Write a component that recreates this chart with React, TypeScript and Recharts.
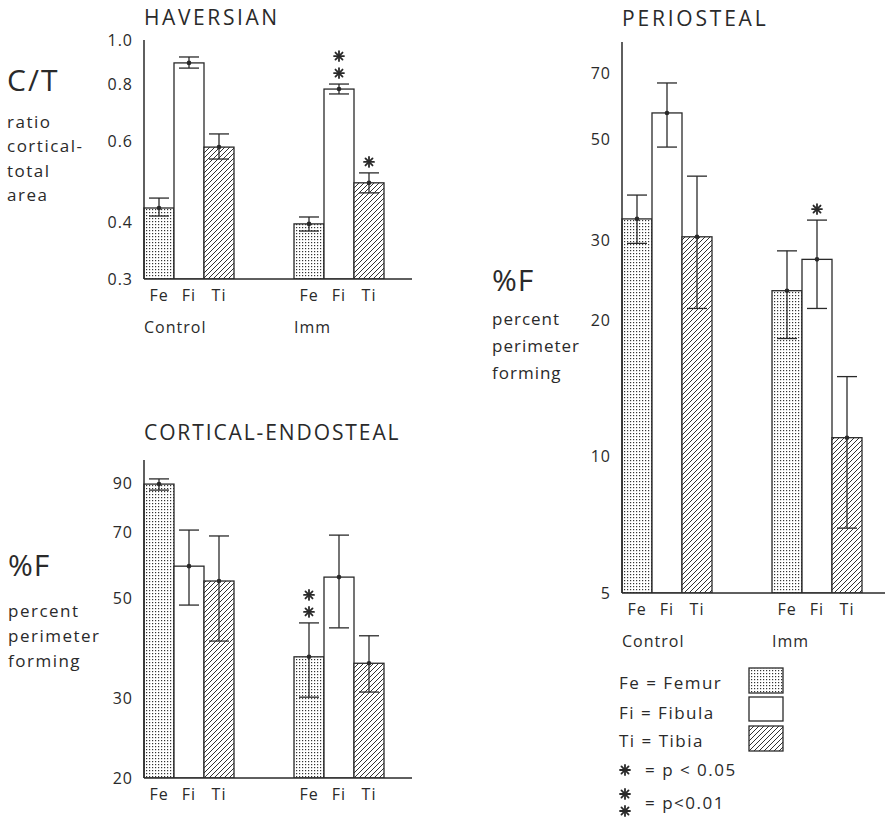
import React from 'react';
import { ComposedChart, Bar, XAxis, YAxis, ErrorBar } from 'recharts';

const INK = '#2a2a2a';
const FONT = '"Open Sans", "DejaVu Sans", sans-serif';

const groups = ['Control', 'Imm'];
const bones = ['Fe', 'Fi', 'Ti'];

// HAVERSIAN  C/T ratio (log scale)
const havTicks = [0.3, 0.4, 0.6, 0.8, 1.0];
const havDomain = [0.3, 1.0];
const havFe = [0.429, 0.396];
const havFi = [0.891, 0.781];
const havTi = [0.583, 0.487];
const havFeErr = [[0.017, 0.022], [0.014, 0.014]];
const havFiErr = [[0.023, 0.027], [0.019, 0.02]];
const havTiErr = [[0.034, 0.04], [0.024, 0.025]];
const havSig = [['', '', ''], ['', '**', '*']];

// CORTICAL-ENDOSTEAL  %F (log scale)
const corTicks = [20, 30, 50, 70, 90];
const corDomain = [20, 101.2];
const corFe = [89.5, 37.1];
const corFi = [58.9, 55.7];
const corTi = [54.6, 35.9];
const corFeErr = [[2.7, 2.4], [6.9, 7.0]];
const corFiErr = [[10.6, 11.9], [12.7, 13.3]];
const corTiErr = [[14.4, 14.1], [4.9, 5.4]];
const corSig = [['', '', ''], ['**', '', '']];

// PERIOSTEAL  %F (log scale)
const perTicks = [5, 10, 20, 30, 50, 70];
const perDomain = [5, 82];
const perFe = [33.4, 23.2];
const perFi = [57.2, 27.2];
const perTi = [30.5, 11.0];
const perFeErr = [[3.9, 4.3], [5.0, 5.2]];
const perFiErr = [[9.1, 9.4], [6.0, 6.0]];
const perTiErr = [[9.3, 11.0], [4.05, 4.0]];
const perSig = [['', '', ''], ['', '*', '']];

const buildRows = (fe: number[], fi: number[], ti: number[], feE: number[][], fiE: number[][], tiE: number[][], sig: string[][]) =>
  groups.map((g, i) => ({
    group: g,
    Fe: fe[i], Fi: fi[i], Ti: ti[i],
    FeErr: feE[i], FiErr: fiE[i], TiErr: tiE[i],
    FeSig: sig[i][0], FiSig: sig[i][1], TiSig: sig[i][2],
  }));

const havRows = buildRows(havFe, havFi, havTi, havFeErr, havFiErr, havTiErr, havSig);
const corRows = buildRows(corFe, corFi, corTi, corFeErr, corFiErr, corTiErr, corSig);
const perRows = buildRows(perFe, perFi, perTi, perFeErr, perFiErr, perTiErr, perSig);

const FILLS: Record<string, string> = { Fe: 'url(#pat-dots)', Fi: '#ffffff', Ti: 'url(#pat-hatch)' };

const Star = ({ cx, cy, r = 5 }: { cx: number; cy: number; r?: number }) => (
  <g stroke={INK} strokeWidth={1.8} strokeLinecap="round">
    {[0, 45, 90, 135].map((a) => {
      const rad = (a * Math.PI) / 180;
      return (
        <line key={a} x1={cx - r * Math.cos(rad)} y1={cy - r * Math.sin(rad)} x2={cx + r * Math.cos(rad)} y2={cy + r * Math.sin(rad)} />
      );
    })}
  </g>
);

const makeShape = (bone: string, base: number) => (props: any) => {
  const { x, y, width, height, payload } = props;
  const v = payload[bone];
  const hi = payload[bone + 'Err'][1];
  const sig: string = payload[bone + 'Sig'] || '';
  const cx = x + width / 2;
  const ppd = height / Math.log10(v / base);
  const errTop = y - Math.log10((v + hi) / v) * ppd;
  const stars = [];
  for (let k = 0; k < sig.length; k++) stars.push(<Star key={k} cx={cx} cy={errTop - 11 - k * 17} />);
  return (
    <g>
      <rect x={x} y={y} width={width} height={height} fill={FILLS[bone]} stroke={INK} strokeWidth={1.3} />
      <circle cx={cx} cy={y} r={2.3} fill={INK} />
      {stars}
    </g>
  );
};

const GroupTick = (p: any) => {
  const { x, y, payload, showGroup } = p;
  return (
    <g fontFamily={FONT} fill={INK}>
      {bones.map((b, i) => (
        <text key={b} x={x + (i - 1) * 30} y={y + 22} textAnchor="middle" fontSize={16} letterSpacing={1}>
          {b}
        </text>
      ))}
      {showGroup && (
        <text x={x - 45} y={y + 54} textAnchor="start" fontSize={16} letterSpacing={1}>
          {payload.value}
        </text>
      )}
    </g>
  );
};

type PanelProps = {
  rows: any[];
  ticks: number[];
  domain: number[];
  left: number;
  top: number;
  plotW: number;
  plotH: number;
  padRight: number;
  showGroup: boolean;
  xAxisH: number;
  fmt: (v: number) => string;
};

const axisLine = { stroke: INK, strokeWidth: 1.5 };
const MT = 12;

const Panel = ({ rows, ticks, domain, left, top, plotW, plotH, padRight, showGroup, xAxisH, fmt }: PanelProps) => (
  <div style={{ position: 'absolute', left, top: top - MT }}>
    <ComposedChart
      width={50 + plotW + 2}
      height={MT + plotH + xAxisH}
      data={rows}
      margin={{ top: MT, right: 2, left: 0, bottom: 0 }}
      barGap={0}
      barCategoryGap={0}
    >
      <XAxis
        dataKey="group"
        interval={0}
        tickLine={false}
        tickSize={0}
        tickMargin={0}
        axisLine={axisLine}
        padding={{ left: -30, right: padRight }}
        height={xAxisH}
        tick={(p: any) => <GroupTick {...p} showGroup={showGroup} />}
      />
      <XAxis xAxisId="top" orientation="top" dataKey="group" height={0} tick={false} tickLine={false} axisLine={axisLine} />
      <YAxis
        type="number"
        scale="log"
        domain={domain}
        allowDataOverflow
        ticks={ticks}
        interval={0}
        width={50}
        tickLine={false}
        tickSize={0}
        tickMargin={11}
        axisLine={axisLine}
        tickFormatter={fmt}
        tick={{ fill: INK, fontSize: 16, fontFamily: FONT, letterSpacing: 1 }}
      />
      <YAxis yAxisId="right" orientation="right" width={0} tick={false} tickLine={false} axisLine={axisLine} />
      {bones.map((b) => (
        <Bar key={b} dataKey={b} barSize={30} shape={makeShape(b, domain[0])} isAnimationActive={false}>
          <ErrorBar dataKey={b + 'Err'} width={10} stroke={INK} strokeWidth={1.3} isAnimationActive={false} />
        </Bar>
      ))}
    </ComposedChart>
  </div>
);

const T = ({ x, y, size, children, ls = 1.5 }: { x: number; y: number; size: number; children: React.ReactNode; ls?: number }) => (
  <text x={x} y={y} fontSize={size} letterSpacing={ls} fill={INK} fontFamily={FONT}>
    {children}
  </text>
);

export default function App() {
  return (
    <div style={{ position: 'absolute', left: 0, top: 0, width: 885, height: 821, overflow: 'hidden', background: '#fff' }}>
      <svg width={0} height={0} style={{ position: 'absolute' }}>
        <defs>
          <pattern id="pat-dots" patternUnits="userSpaceOnUse" width={3} height={3}>
            <rect width={3} height={3} fill="#fff" />
            <rect x={1} y={1} width={1.2} height={1.2} fill="#333" />
          </pattern>
          <pattern id="pat-hatch" patternUnits="userSpaceOnUse" width={5} height={5}>
            <rect width={5} height={5} fill="#fff" />
            <path d="M-1,1 l2,-2 M0,5 l5,-5 M4,6 l2,-2" stroke="#333" strokeWidth={1} />
          </pattern>
        </defs>
      </svg>

      <svg width={885} height={821} style={{ position: 'absolute', left: 0, top: 0 }}>
        <T x={144} y={25} size={21} ls={2.6}>HAVERSIAN</T>
        <T x={7} y={91} size={30} ls={2}>C/T</T>
        <T x={7} y={128} size={17}>ratio</T>
        <T x={7} y={152} size={17}>cortical-</T>
        <T x={7} y={177} size={17}>total</T>
        <T x={7} y={201} size={17}>area</T>

        <T x={144} y={440} size={21} ls={1.9}>CORTICAL-ENDOSTEAL</T>
        <T x={8} y={576} size={30} ls={1}>%F</T>
        <T x={8} y={617} size={17}>percent</T>
        <T x={8} y={642} size={17}>perimeter</T>
        <T x={8} y={667} size={17}>forming</T>

        <T x={622} y={26} size={21} ls={2.8}>PERIOSTEAL</T>
        <T x={492} y={291} size={30} ls={1}>%F</T>
        <T x={492} y={325} size={17} ls={1}>percent</T>
        <T x={492} y={352} size={17} ls={1}>perimeter</T>
        <T x={492} y={379} size={17} ls={1}>forming</T>

        <T x={619} y={689} size={17}>Fe = Femur</T>
        <T x={619} y={719} size={17}>Fi = Fibula</T>
        <T x={619} y={747} size={17}>Ti = Tibia</T>
        <rect x={749} y={668} width={34} height={25} fill="url(#pat-dots)" stroke={INK} strokeWidth={1.3} />
        <rect x={749} y={697} width={34} height={24} fill="#fff" stroke={INK} strokeWidth={1.3} />
        <rect x={749} y={726} width={34} height={25} fill="url(#pat-hatch)" stroke={INK} strokeWidth={1.3} />
        <Star cx={625} cy={770} />
        <T x={645} y={776} size={17}>= p &lt; 0.05</T>
        <Star cx={625} cy={794} />
        <Star cx={625} cy={811} />
        <T x={645} y={809} size={17}>= p&lt;0.01</T>
      </svg>

      <Panel rows={havRows} ticks={havTicks} domain={havDomain} left={94} top={40} plotW={268} plotH={239} padRight={-2} showGroup xAxisH={60} fmt={(v) => v.toFixed(1)} />
      <Panel rows={corRows} ticks={corTicks} domain={corDomain} left={94} top={460} plotW={268} plotH={318} padRight={-2} showGroup={false} xAxisH={40} fmt={(v) => String(v)} />
      <Panel rows={perRows} ticks={perTicks} domain={perDomain} left={572} top={42} plotW={270} plotH={551} padRight={0} showGroup xAxisH={60} fmt={(v) => String(v)} />
    </div>
  );
}
